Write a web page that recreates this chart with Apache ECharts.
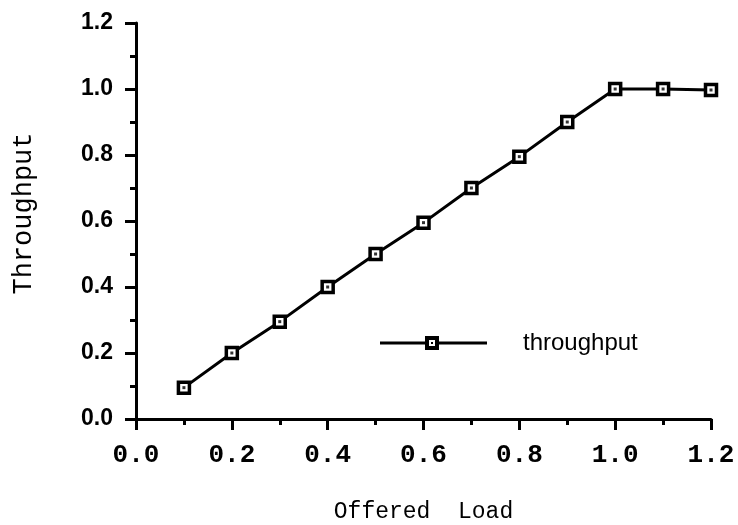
<!DOCTYPE html>
<html>
<head>
<meta charset="utf-8">
<script src="https://cdn.jsdelivr.net/npm/echarts@6/dist/echarts.min.js"></script>
<style>
  html, body { margin: 0; padding: 0; background: #fff; }
  #chart { width: 738px; height: 525px; }
</style>
</head>
<body>
<div id="chart"></div>
<script>
// offered load vs throughput
var offeredLoad = [0.1, 0.2, 0.3, 0.4, 0.5, 0.6, 0.7, 0.8, 0.9, 1.0, 1.1, 1.2];
var throughput = [0.095, 0.2, 0.295, 0.4, 0.5, 0.595, 0.7, 0.795, 0.9, 1.0, 1.0, 0.997];
var xTicks = ['0.0', '0.2', '0.4', '0.6', '0.8', '1.0', '1.2'];
var yTicks = ['0.0', '0.2', '0.4', '0.6', '0.8', '1.0', '1.2'];

var points = offeredLoad.map(function (x, i) { return [x, throughput[i]]; });

var mono = '"Liberation Mono", "DejaVu Sans Mono", monospace';
var sans = '"Liberation Sans", Arial, sans-serif';

// legend icon: line + hollow square + dot (in a 107x14 box)
var legendIcon = 'path://M0,5.5H45V8.5H0Z M45,0H59V14H45Z M49,4V10H55V4Z M51,6H53V8H51Z M59,5.5H107V8.5H59Z';

var myChart = echarts.init(document.getElementById('chart'));
var option = {
  animation: false,
  grid: { left: 136, right: 27, top: 23, bottom: 106, outerBoundsMode: 'none', containLabel: false },
  legend: {
    left: 380,
    top: 331,
    padding: 0,
    itemWidth: 107,
    itemHeight: 14,
    data: [{
      name: 'throughput',
      icon: legendIcon,
      itemStyle: { color: '#000', borderWidth: 0 }
    }],
    textStyle: { fontFamily: sans, fontSize: 24, color: '#000', padding: [0, 0, 0, 31] }
  },
  xAxis: {
    type: 'value',
    min: 0,
    max: 1.2,
    interval: 0.2,
    name: 'Offered  Load',
    nameLocation: 'middle',
    nameGap: 81,
    nameTextStyle: { fontFamily: mono, fontSize: 23, color: '#000' },
    axisLine: { lineStyle: { color: '#000', width: 3 } },
    axisTick: { length: 11, lineStyle: { color: '#000', width: 3 } },
    minorTick: { show: true, splitNumber: 2, length: 6, lineStyle: { color: '#000', width: 3 } },
    splitLine: { show: false },
    axisLabel: {
      margin: 23,
      fontFamily: mono,
      fontWeight: 'bold',
      fontSize: 26,
      color: '#000',
      formatter: function (v) { return xTicks[Math.round(v / 0.2)]; }
    }
  },
  yAxis: {
    type: 'value',
    min: 0,
    max: 1.2,
    interval: 0.2,
    name: 'Throughput',
    nameLocation: 'middle',
    nameGap: 84,
    nameTextStyle: { fontFamily: mono, fontSize: 27, color: '#000', padding: [0, 0, 15, 15] },
    axisLine: { lineStyle: { color: '#000', width: 3 } },
    axisTick: { length: 11, lineStyle: { color: '#000', width: 3 } },
    minorTick: { show: true, splitNumber: 2, length: 6, lineStyle: { color: '#000', width: 3 } },
    splitLine: { show: false },
    axisLabel: {
      margin: 23,
      fontFamily: sans,
      fontWeight: 'bold',
      fontSize: 23,
      color: '#000',
      formatter: function (v) { return yTicks[Math.round(v / 0.2)]; }
    }
  },
  series: [
    {
      name: 'throughput',
      type: 'line',
      data: points,
      symbol: 'rect',
      symbolSize: 11,
      lineStyle: { color: '#000', width: 3 },
      itemStyle: { color: '#fff', borderColor: '#000', borderWidth: 3.5 },
      z: 2
    },
    {
      // the small dot in the middle of each marker
      type: 'scatter',
      data: points,
      symbol: 'rect',
      symbolSize: 3,
      itemStyle: { color: '#000' },
      silent: true,
      z: 3
    }
  ]
};
myChart.setOption(option);
</script>
</body>
</html>
